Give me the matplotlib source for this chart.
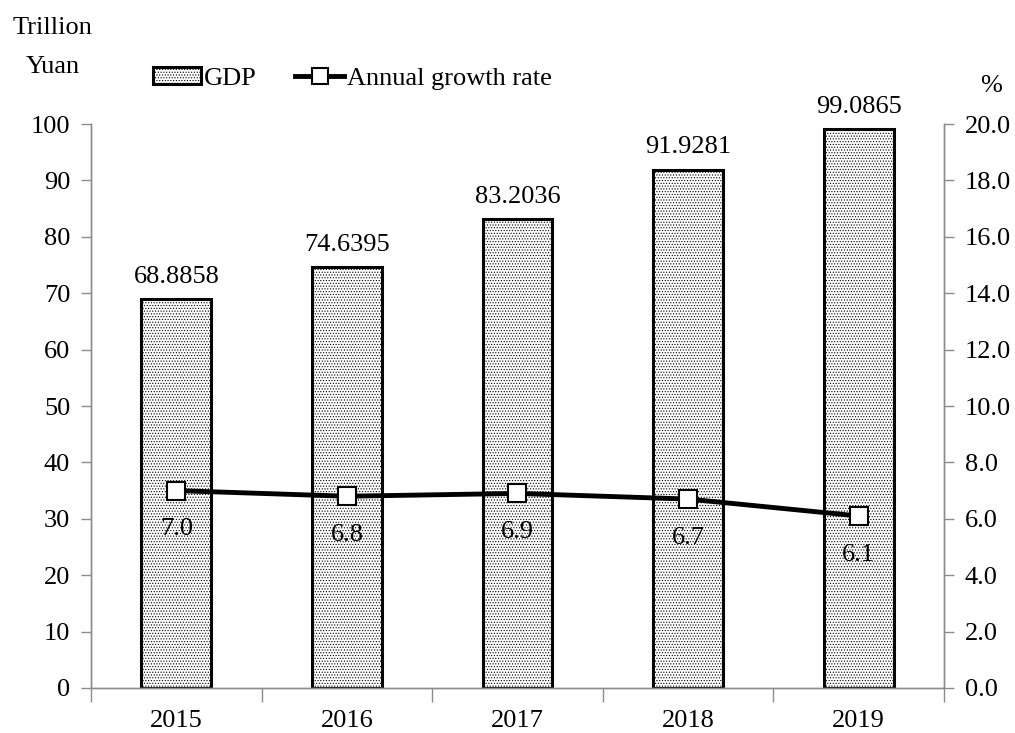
import matplotlib
matplotlib.use("Agg")
from matplotlib import pyplot as plt
from matplotlib.lines import Line2D
from matplotlib.patches import Patch
import numpy as np

years = ["2015", "2016", "2017", "2018", "2019"]
gdp = [68.8858, 74.6395, 83.2036, 91.9281, 99.0865]
gdp_labels = ["68.8858", "74.6395", "83.2036", "91.9281", "99.0865"]
growth = [7.0, 6.8, 6.9, 6.7, 6.1]

plt.rcParams["font.family"] = ["Liberation Serif", "DejaVu Serif"]
plt.rcParams["hatch.color"] = "#cdcdcd"
plt.rcParams["hatch.linewidth"] = 0.5

FS = 19

fig = plt.figure(figsize=(10.15, 7.33), dpi=100)
ax = fig.add_axes([0.0897, 0.0614, 0.8403, 0.7694])
ax2 = ax.twinx()

x = np.arange(len(years))
ax.bar(x, gdp, width=0.41, facecolor="white", edgecolor="black",
       linewidth=2.2, hatch="......", zorder=2)
for xi, v, lab in zip(x, gdp, gdp_labels):
    ax.annotate(lab, (xi, v), xytext=(0, 8), textcoords="offset points",
                ha="center", va="bottom", fontsize=FS)

ax.set_xlim(-0.5, len(years) - 0.5)
ax.set_ylim(0, 100)
ax.set_yticks(range(0, 101, 10))
ax.set_xticks(x)
ax.set_xticklabels(years)
ax.set_xticks(np.arange(-0.5, len(years), 1.0), minor=True)
ax.tick_params(axis="x", which="major", length=0, pad=16, labelsize=FS)
ax.tick_params(axis="x", which="minor", length=10, color="#8c8c8c", width=1)
ax.tick_params(axis="y", length=7, color="#8c8c8c", width=1, pad=8, labelsize=FS)

ax2.plot(x, growth, color="black", linewidth=3.5, marker="s", markersize=13,
         markerfacecolor="white", markeredgecolor="black", markeredgewidth=1.5,
         zorder=3)
for xi, v in zip(x, growth):
    ax2.annotate(f"{v:.1f}", (xi, v), xytext=(0, -20), textcoords="offset points",
                 ha="center", va="top", fontsize=FS)
ax2.set_ylim(0, 20)
ax2.set_yticks(np.arange(0, 20.1, 2))
ax2.set_yticklabels([f"{t:.1f}" for t in np.arange(0, 20.1, 2)])
ax2.tick_params(axis="y", length=7, color="#8c8c8c", width=1, pad=8, labelsize=FS)

for a in (ax, ax2):
    a.spines["top"].set_visible(False)
    for s in ("left", "right", "bottom"):
        a.spines[s].set_color("#8c8c8c")
        a.spines[s].set_linewidth(1)

fig.text(0.012, 0.962, "Trillion", fontsize=FS, ha="left", va="center")
fig.text(0.025, 0.908, "Yuan", fontsize=FS, ha="left", va="center")
fig.text(0.976, 0.882, "%", fontsize=FS, ha="center", va="center")

handles = [
    Patch(facecolor="white", edgecolor="black", linewidth=2.2, hatch="......"),
    Line2D([0], [0], color="black", linewidth=3.5, marker="s", markersize=12,
           markerfacecolor="white", markeredgecolor="black", markeredgewidth=1.5),
]
fig.legend(handles, ["GDP", "Annual growth rate"], loc="center left",
           bbox_to_anchor=(0.127, 0.893), ncol=2, frameon=False, fontsize=FS,
           handlelength=1.85, handleheight=0.6, handletextpad=0.1,
           columnspacing=1.45)

fig.savefig("out.png", dpi=100)
